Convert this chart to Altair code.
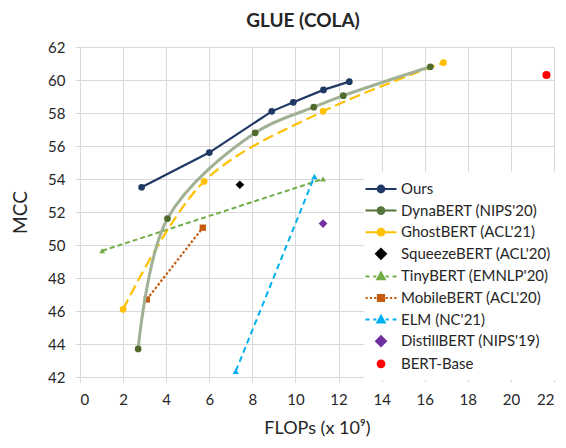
import altair as alt
import pandas as pd

# ---- data ----
series_names = ["Ours", "DynaBERT (NIPS'20)", "GhostBERT (ACL'21)", "SqueezeBERT (ACL'20)",
                "TinyBERT (EMNLP'20)", "MobileBERT (ACL'20)", "ELM (NC'21)",
                "DistillBERT (NIPS'19)", "BERT-Base"]

ours_x = [2.86, 6.0, 8.9, 9.9, 11.3, 12.5]
ours_y = [53.5, 55.6, 58.1, 58.65, 59.4, 59.9]
dyna_x = [2.7, 4.06, 8.13, 10.85, 12.22, 16.26]
dyna_y = [43.7, 51.6, 56.8, 58.35, 59.05, 60.8]
ghost_x = [2.0, 5.76, 11.28, 16.87]
ghost_y = [46.1, 53.85, 58.1, 61.05]
squeeze_x = [7.42]
squeeze_y = [53.65]
tiny_x = [1.03, 11.28]
tiny_y = [49.65, 54.0]
mobile_x = [3.1, 5.7]
mobile_y = [46.7, 51.05]
elm_x = [7.23, 10.88]
elm_y = [42.35, 54.15]
distill_x = [11.28]
distill_y = [51.3]
bert_x = [21.65]
bert_y = [60.3]

x_ticks = list(range(0, 23, 2))
y_ticks = list(range(42, 63, 2))

# ---- styles ----
legend_colors = ["#1f3864", "#55753a", "#ffc000", "#000000", "#70ad47",
                 "#c55a11", "#00b0f0", "#7030a0", "#ff0000"]

circ = "M0.44,0A0.44,0.44,0,1,1,-0.44,0A0.44,0.44,0,1,1,0.44,0Z"
diam = "M0,-0.64L0.64,0L0,0.64L-0.64,0Z"
tri = "M0,-0.5L0.48,0.36L-0.48,0.36Z"
sq = "M-0.4,-0.4H0.4V0.4H-0.4Z"
solid = "M-2,0H2"
dash4 = "M-2,0H-1.5M-1,0H-0.6M0.6,0H1M1.5,0H2"
dots = "M-2,0H-1.72M-1.44,0H-1.16M-0.88,0H-0.6M0.6,0H0.88M1.16,0H1.44M1.72,0H2"
legend_paths = [solid + circ, solid + circ, solid + circ, diam,
                dash4 + tri, dots + sq, dash4 + tri, diam, circ]

FONT = "Lato"
TXT = "#262626"

xscale = alt.Scale(domain=[0, 22], nice=False, zero=False)
yscale = alt.Scale(domain=[42, 62], nice=False, zero=False)

xaxis = alt.Axis(values=x_ticks, title="FLOPs (x 10⁹)", labelFontSize=15, titleFontSize=18,
                 titleFontWeight="normal", labelPadding=10, titlePadding=12)
yaxis = alt.Axis(values=y_ticks, title="MCC", labelFontSize=15, titleFontSize=19,
                 titleFontWeight="normal", labelPadding=10, titlePadding=17)


def layer(xs, ys, name, line_color=None, dash=None, width=2.0, interp="linear",
          shape="circle", mcolor=None, msize=45):
    df = pd.DataFrame({"x": xs, "y": ys, "series": name})
    enc = dict(x=alt.X("x:Q", scale=xscale, axis=xaxis),
               y=alt.Y("y:Q", scale=yscale, axis=yaxis))
    parts = []
    if line_color is not None:
        kw = dict(color=line_color, strokeWidth=width, interpolate=interp)
        if dash is not None:
            kw["strokeDash"] = dash
        parts.append(alt.Chart(df).mark_line(**kw).encode(**enc))
    parts.append(alt.Chart(df).mark_point(filled=True, shape=shape, color=mcolor,
                                          size=msize, opacity=1).encode(**enc))
    return parts


layers = []
layers += layer(tiny_x, tiny_y, series_names[4], "#70ad47", [5, 3], 2.0, "linear",
                "triangle-up", "#70ad47", 35)
layers += layer(mobile_x, mobile_y, series_names[5], "#c55a11", [2.5, 2], 2.2, "linear",
                "square", "#c55a11", 40)
layers += layer(elm_x, elm_y, series_names[6], "#00b0f0", [6, 4], 2.0, "linear",
                "triangle-up", "#00b0f0", 40)
layers += layer(ghost_x, ghost_y, series_names[2], "#ffc000", [11, 5], 2.2, "catmull-rom",
                "circle", "#ffc000", 45)
layers += layer(dyna_x, dyna_y, series_names[1], "#a0b196", None, 3.0, "catmull-rom",
                "circle", "#4e6b2d", 45)
layers += layer(ours_x, ours_y, series_names[0], "#1f3864", None, 2.2, "linear",
                "circle", "#1f3864", 45)
layers += layer(squeeze_x, squeeze_y, series_names[3], None, None, 0, "linear",
                "diamond", "#000000", 75)
layers += layer(distill_x, distill_y, series_names[7], None, None, 0, "linear",
                "diamond", "#7030a0", 75)
layers += layer(bert_x, bert_y, series_names[8], None, None, 0, "linear",
                "circle", "#ff0000", 65)

# invisible carrier for the legend (one point per series)
leg_df = pd.DataFrame({
    "x": [ours_x[0], dyna_x[0], ghost_x[0], squeeze_x[0], tiny_x[0], mobile_x[0],
          elm_x[0], distill_x[0], bert_x[0]],
    "y": [ours_y[0], dyna_y[0], ghost_y[0], squeeze_y[0], tiny_y[0], mobile_y[0],
          elm_y[0], distill_y[0], bert_y[0]],
    "series": series_names,
})
cscale = alt.Scale(domain=series_names, range=legend_colors)
legend_layer = alt.Chart(leg_df).mark_point(filled=True, opacity=0).encode(
    x=alt.X("x:Q", scale=xscale, axis=xaxis),
    y=alt.Y("y:Q", scale=yscale, axis=yaxis),
    color=alt.Color("series:N", scale=cscale, title=None),
    stroke=alt.Stroke("series:N", scale=cscale, title=None),
    shape=alt.Shape("series:N", scale=alt.Scale(domain=series_names, range=legend_paths),
                    title=None),
)

chart = alt.layer(*layers, legend_layer).properties(
    width=474, height=330,
    autosize="none",
    padding={"left": 72, "top": 39, "right": 4, "bottom": 63},
    title=alt.TitleParams("GLUE (COLA)", font=FONT, fontSize=19, fontWeight="bold",
                          color=TXT, dx=-14, offset=9),
).configure_view(stroke=None).configure_axis(
    labelFont=FONT, titleFont=FONT, labelColor=TXT, titleColor=TXT,
    gridColor="#d9d9d9", domainColor="#d9d9d9", tickColor="#d9d9d9", tickSize=5,
    gridWidth=1,
).configure_legend(
    orient="none", legendX=284, legendY=125, fillColor="white", padding=8,
    labelFont=FONT, labelFontSize=15, labelColor=TXT, symbolSize=240,
    symbolStrokeWidth=2, symbolOpacity=1, labelOffset=11, rowPadding=4.6,
    labelLimit=300,
)

chart.save("out.html", embed_options={"renderer": "svg", "actions": False})
